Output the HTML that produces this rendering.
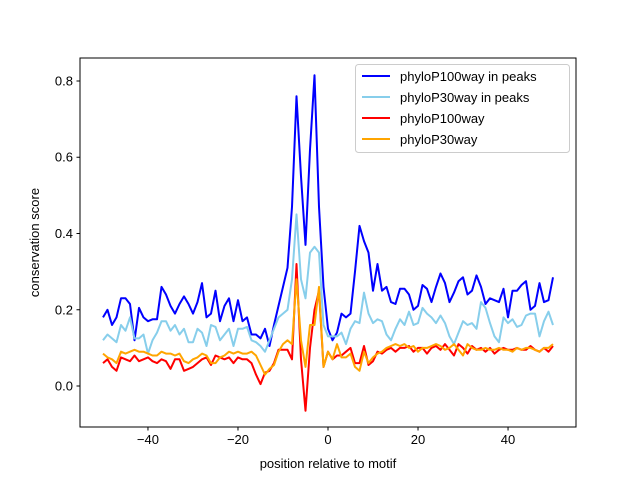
<!DOCTYPE html>
<html><head><meta charset="utf-8"><style>
body{margin:0;background:#fff}
svg{font-family:"Liberation Sans","DejaVu Sans",sans-serif}
</style></head><body>
<svg id="chart" width="640" height="480"></svg>
<script>
const blue100 = [0.18,0.20,0.16,0.18,0.23,0.23,0.215,0.12,0.205,0.18,
0.17,0.175,0.175,0.26,0.24,0.21,0.19,0.215,0.235,0.215,
0.19,0.22,0.27,0.18,0.19,0.25,0.17,0.21,0.23,0.17,
0.225,0.17,0.18,0.135,0.135,0.125,0.15,0.105,0.16,0.21,
0.26,0.31,0.47,0.76,0.55,0.37,0.62,0.815,0.47,0.26,0.15,
0.12,0.14,0.19,0.18,0.19,0.30,0.42,0.38,0.35,0.25,
0.32,0.25,0.26,0.22,0.215,0.255,0.255,0.24,0.20,0.21,
0.265,0.255,0.22,0.26,0.295,0.27,0.22,0.245,0.275,0.285,
0.24,0.25,0.29,0.26,0.215,0.23,0.225,0.22,0.255,0.18,
0.25,0.25,0.265,0.275,0.20,0.21,0.27,0.22,0.225,0.285];
const light30 = [0.12,0.135,0.125,0.115,0.16,0.145,0.18,0.125,0.125,0.135,
0.085,0.12,0.14,0.17,0.17,0.145,0.16,0.135,0.15,0.115,
0.115,0.15,0.14,0.105,0.16,0.155,0.12,0.135,0.15,0.105,
0.15,0.15,0.155,0.12,0.115,0.105,0.09,0.12,0.15,0.18,
0.19,0.20,0.28,0.45,0.28,0.23,0.35,0.365,0.35,0.16,0.13,
0.13,0.13,0.14,0.11,0.15,0.17,0.165,0.245,0.19,0.165,
0.175,0.17,0.135,0.12,0.15,0.175,0.16,0.195,0.16,0.165,
0.205,0.19,0.18,0.165,0.185,0.165,0.13,0.11,0.14,0.17,
0.16,0.165,0.15,0.22,0.205,0.165,0.13,0.115,0.18,0.165,
0.175,0.155,0.16,0.185,0.19,0.19,0.13,0.17,0.195,0.16];
const red100 = [0.06,0.07,0.05,0.04,0.075,0.07,0.065,0.08,0.065,0.07,
0.075,0.065,0.06,0.07,0.065,0.045,0.07,0.07,0.04,0.045,
0.05,0.06,0.07,0.075,0.055,0.08,0.075,0.07,0.075,0.06,
0.075,0.07,0.07,0.06,0.03,0.005,0.035,0.04,0.06,0.095,
0.095,0.095,0.07,0.32,0.07,-0.065,0.10,0.20,0.25,0.05,0.09,
0.07,0.08,0.08,0.09,0.10,0.06,0.06,0.105,0.055,0.065,
0.09,0.085,0.095,0.10,0.09,0.10,0.10,0.105,0.09,0.10,
0.10,0.085,0.10,0.105,0.095,0.11,0.095,0.08,0.11,0.10,
0.085,0.105,0.095,0.10,0.09,0.10,0.085,0.095,0.10,0.095,
0.095,0.10,0.095,0.095,0.105,0.095,0.09,0.10,0.09,0.105];
const orange30 = [0.085,0.075,0.07,0.06,0.09,0.085,0.09,0.095,0.09,0.09,
0.085,0.08,0.08,0.09,0.085,0.085,0.08,0.085,0.065,0.06,
0.07,0.075,0.085,0.08,0.06,0.06,0.075,0.08,0.09,0.085,
0.09,0.085,0.085,0.09,0.08,0.055,0.03,0.045,0.055,0.09,
0.11,0.12,0.11,0.28,0.12,0.05,0.16,0.16,0.26,0.05,0.09,
0.07,0.11,0.075,0.075,0.085,0.05,0.04,0.09,0.06,0.075,
0.085,0.09,0.10,0.105,0.11,0.105,0.11,0.10,0.105,0.09,
0.10,0.10,0.105,0.11,0.105,0.095,0.10,0.11,0.095,0.08,
0.11,0.10,0.095,0.095,0.10,0.095,0.095,0.10,0.095,0.095,
0.09,0.10,0.095,0.10,0.10,0.095,0.09,0.10,0.10,0.11];
const xTicks = [-40,-20,0,20,40];
const yTicks = [0.0,0.2,0.4,0.6,0.8];
const seriesNames = ["phyloP100way in peaks","phyloP30way in peaks","phyloP100way","phyloP30way"];
const seriesColors = ["#0000ff","#87ceeb","#ff0000","#ffa500"];

const L=80,R=576,T=58,B=427;
const xMin=-55.1,xMax=55.1,yMin=-0.1075,yMax=0.8603;
const sx=v=>L+(v-xMin)/(xMax-xMin)*(R-L);
const sy=v=>B-(v-yMin)/(yMax-yMin)*(B-T);
const NS="http://www.w3.org/2000/svg";
const svg=document.getElementById('chart');
function mk(tag,attrs,parent){const e=document.createElementNS(NS,tag);for(const k in attrs)e.setAttribute(k,attrs[k]);(parent||svg).appendChild(e);return e;}

const series=[blue100,light30,red100,orange30];
series.forEach((arr,i)=>{
  const pts=arr.map((v,j)=>sx(j-50).toFixed(1)+','+sy(v).toFixed(1)).join(' ');
  const p=mk('polyline',{points:pts,fill:'none',stroke:seriesColors[i],'stroke-width':2,'stroke-linejoin':'round'});
  
  
});
const frame=mk('rect',{x:L,y:T,width:R-L,height:B-T,fill:'none',stroke:'#000','stroke-width':1});


xTicks.forEach(t=>{
  const x=sx(t);
  mk('line',{x1:x,x2:x,y1:B,y2:B+3.5,stroke:'#000'});
  const tx=mk('text',{x:x,y:B+17,'font-size':13,'text-anchor':'middle'});
  tx.textContent=t<0?'\u2212'+Math.abs(t):String(t);
  
  
});
yTicks.forEach(t=>{
  const y=sy(t);
  mk('line',{x1:L-3.5,x2:L,y1:y,y2:y,stroke:'#000'});
  const tx=mk('text',{x:L-7,y:y+4.5,'font-size':13,'text-anchor':'end'});
  tx.textContent=t.toFixed(1);
  
  
});
const xt=mk('text',{x:(L+R)/2,y:468,'font-size':13,'text-anchor':'middle'});
xt.textContent='position relative to motif';


const yt=mk('text',{x:0,y:0,'font-size':13,'text-anchor':'middle',transform:'translate(39,'+((T+B)/2)+') rotate(-90)'});
yt.textContent='conservation score';


const lg=mk('g',{});


mk('rect',{x:355.5,y:64.5,width:214,height:88,rx:3,fill:'#fff','fill-opacity':0.8,stroke:'#ccc'},lg);
seriesNames.forEach((n,i)=>{
  const y=76+i*21;
  const ln=mk('line',{x1:362,x2:390,y1:y,y2:y,stroke:seriesColors[i],'stroke-width':2},lg);
  
  
  const t=mk('text',{x:400,y:y+5,'font-size':13},lg);
  t.textContent=n;
  
  
});
</script>
</body></html>
